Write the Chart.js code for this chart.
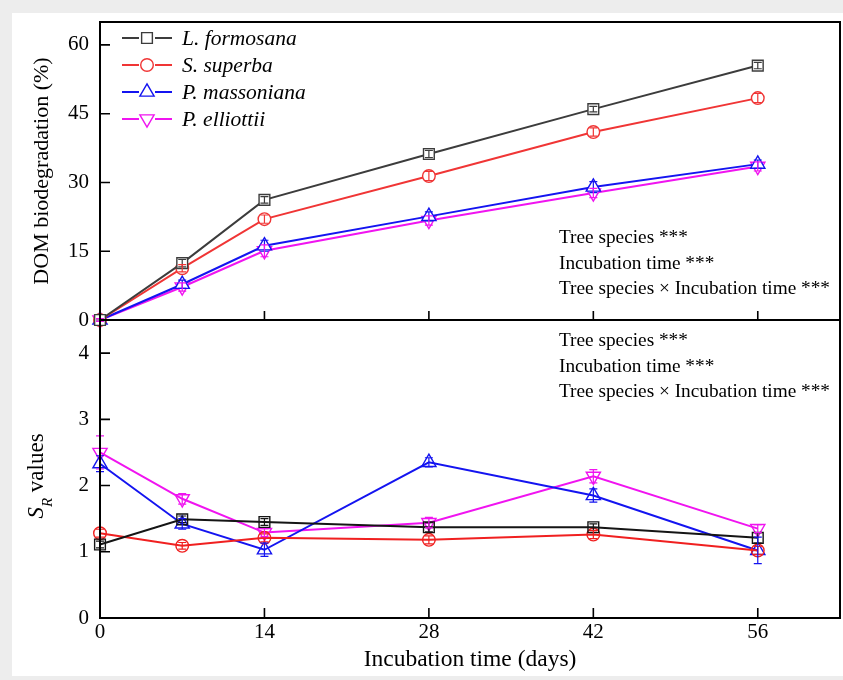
<!DOCTYPE html>
<html><head><meta charset="utf-8">
<script src="https://cdn.jsdelivr.net/npm/chart.js@4.4.1/dist/chart.umd.min.js"></script>
<style>
html,body{margin:0;padding:0;background:#ededed;width:843px;height:680px;overflow:hidden}
#wrap{position:absolute;left:12px;top:13px;width:831px;height:663px;background:#fff}
canvas{display:block}
</style></head><body>
<div id="wrap"><canvas id="c" width="831" height="663"></canvas></div>
<script>
// ---- data ----
const days = [0, 7, 14, 28, 42, 56];
const species = ['L. formosana', 'S. superba', 'P. massoniana', 'P. elliottii'];
const xTicks = [0, 14, 28, 42, 56];

// DOM biodegradation (%)
const degLF = [0, 12.4, 26.2, 36.2, 46.0, 55.5];
const degSS = [0, 11.3, 22.0, 31.4, 41.0, 48.4];
const degPM = [0, 7.8, 16.2, 22.6, 29.0, 34.0];
const degPE = [0, 7.2, 15.1, 21.7, 27.7, 33.5];
const degErrLF = [0.3, 0.8, 0.7, 0.8, 0.6, 0.7];
const degErrSS = [0.3, 0.8, 0.9, 1.0, 0.9, 1.0];
const degErrPM = [0.3, 0.9, 1.2, 1.0, 1.2, 0.9];
const degErrPE = [0.3, 0.9, 1.3, 1.0, 1.0, 1.0];

// SR values
const srLF = [1.11, 1.49, 1.45, 1.37, 1.37, 1.21];
const srSS = [1.28, 1.09, 1.21, 1.18, 1.26, 1.02];
const srPM = [2.33, 1.42, 1.03, 2.35, 1.85, 1.02];
const srPE = [2.50, 1.80, 1.29, 1.44, 2.14, 1.35];
const srErrLF = [0.05, 0.05, 0.05, 0.07, 0.05, 0.08];
const srErrSS = [0.06, 0.05, 0.06, 0.06, 0.06, 0.06];
const srErrPM = [0.12, 0.08, 0.10, 0.07, 0.10, 0.20];
const srErrPE = [0.25, 0.08, 0.06, 0.08, 0.10, 0.06];

const statLines = ['Tree species ***', 'Incubation time ***', 'Tree species \u00d7 Incubation time ***'];

// ---- styles ----
const colorsTop = ['#3c3c3c', '#f03535', '#1414f0', '#f014f0'];
const colorsBot = ['#151515', '#f02020', '#1414f0', '#f014f0'];
const styles = [
  {pointStyle: 'rect', rot: 0, r: 7.6},
  {pointStyle: 'circle', rot: 0, r: 6.3},
  {pointStyle: 'triangle', rot: 0, r: 8.2},
  {pointStyle: 'triangle', rot: 180, r: 8.2}
];
const SERIF = '"Liberation Serif", "Times New Roman", serif';

const pts = arr => days.map((d, i) => ({x: d, y: arr[i]}));
function mk(idx, vals, errs, axis, colors, fill) {
  return {
    label: species[idx], data: pts(vals), err: errs, yAxisID: axis,
    borderColor: colors[idx], backgroundColor: 'rgba(0,0,0,0)',
    borderWidth: 2, pointStyle: styles[idx].pointStyle, pointRotation: styles[idx].rot,
    pointRadius: styles[idx].r, pointBorderWidth: 1.4, pointBorderColor: colors[idx],
    pointBackgroundColor: fill, tension: 0, clip: false
  };
}
const datasets = [
  mk(0, degLF, degErrLF, 'yTop', colorsTop, '#fff'), mk(1, degSS, degErrSS, 'yTop', colorsTop, '#fff'),
  mk(2, degPM, degErrPM, 'yTop', colorsTop, '#fff'), mk(3, degPE, degErrPE, 'yTop', colorsTop, '#fff'),
  mk(0, srLF, srErrLF, 'yBot', colorsBot, 'rgba(0,0,0,0)'), mk(1, srSS, srErrSS, 'yBot', colorsBot, 'rgba(0,0,0,0)'),
  mk(2, srPM, srErrPM, 'yBot', colorsBot, 'rgba(0,0,0,0)'), mk(3, srPE, srErrPE, 'yBot', colorsBot, 'rgba(0,0,0,0)')
];

const deco = {
  id: 'deco',
  afterDatasetsDraw(chart) {
    const ctx = chart.ctx;
    ctx.save();
    chart.data.datasets.forEach((ds, di) => {
      const meta = chart.getDatasetMeta(di);
      const ys = chart.scales[ds.yAxisID];
      ctx.strokeStyle = ds.borderColor; ctx.lineWidth = 1.2;
      ds.data.forEach((p, j) => {
        const e = ds.err[j];
        const x = meta.data[j].x;
        const y1 = ys.getPixelForValue(p.y + e), y2 = ys.getPixelForValue(p.y - e);
        ctx.beginPath();
        ctx.moveTo(x, y1); ctx.lineTo(x, y2);
        ctx.moveTo(x - 4, y1); ctx.lineTo(x + 4, y1);
        ctx.moveTo(x - 4, y2); ctx.lineTo(x + 4, y2);
        ctx.stroke();
      });
    });
    ctx.restore();
  },
  afterDraw(chart) {
    const ctx = chart.ctx;
    const ca = chart.chartArea;
    const xs = chart.scales.x, yt = chart.scales.yTop, yb = chart.scales.yBot;
    const mid = yt.bottom;
    ctx.save();
    ctx.strokeStyle = '#000'; ctx.lineWidth = 2;
    ctx.strokeRect(ca.left, ca.top, ca.right - ca.left, ca.bottom - ca.top);
    ctx.beginPath(); ctx.moveTo(ca.left, mid); ctx.lineTo(ca.right, mid); ctx.stroke();
    // inward ticks
    ctx.lineWidth = 1.6;
    ctx.beginPath();
    yt.ticks.forEach(t => { const y = yt.getPixelForValue(t.value); ctx.moveTo(ca.left, y); ctx.lineTo(ca.left + 10, y); });
    yb.ticks.forEach(t => { const y = yb.getPixelForValue(t.value); ctx.moveTo(ca.left, y); ctx.lineTo(ca.left + 10, y); });
    xs.ticks.forEach(t => {
      const x = xs.getPixelForValue(t.value);
      ctx.moveTo(x, ca.bottom); ctx.lineTo(x, ca.bottom - 10);
      ctx.moveTo(x, mid); ctx.lineTo(x, mid - 9);
    });
    ctx.stroke();

    // legend
    for (let i = 0; i < 4; i++) {
      const ds = chart.data.datasets[i];
      const y = ca.top + 16 + i * 27;
      const x0 = ca.left + 22, x1 = ca.left + 72, xm = (x0 + x1) / 2;
      ctx.strokeStyle = ds.borderColor; ctx.lineWidth = 2;
      ctx.beginPath(); ctx.moveTo(x0, y); ctx.lineTo(xm - 8, y); ctx.moveTo(xm + 8, y); ctx.lineTo(x1, y); ctx.stroke();
      ctx.lineWidth = 1.4; ctx.fillStyle = 'rgba(0,0,0,0)';
      Chart.helpers.drawPoint(ctx, {pointStyle: ds.pointStyle, rotation: ds.pointRotation, radius: ds.pointRadius, borderWidth: 1.4}, xm, y);
      ctx.fillStyle = '#000';
      ctx.font = 'italic 21.5px ' + SERIF;
      ctx.textBaseline = 'middle'; ctx.textAlign = 'left';
      ctx.fillText(ds.label, ca.left + 82, y + 1);
    }

    // stats text
    ctx.fillStyle = '#000';
    ctx.font = '19.3px ' + SERIF;
    ctx.textBaseline = 'middle'; ctx.textAlign = 'left';
    const tx = ca.left + 459;
    statLines.forEach((s, i) => ctx.fillText(s, tx, ca.top + 216 + i * 25.5));
    statLines.forEach((s, i) => ctx.fillText(s, tx, mid + 21 + i * 25.5));

    // y titles
    ctx.save();
    ctx.translate(30, (yt.top + yt.bottom) / 2);
    ctx.rotate(-Math.PI / 2);
    ctx.font = '22px ' + SERIF; ctx.textAlign = 'center'; ctx.textBaseline = 'middle';
    ctx.fillText('DOM biodegradation (%)', 0, 0);
    ctx.restore();

    ctx.save();
    ctx.translate(31, (yb.top + yb.bottom) / 2 + 7);
    ctx.rotate(-Math.PI / 2);
    ctx.textBaseline = 'alphabetic'; ctx.textAlign = 'left';
    const fS = 'italic 23px ' + SERIF, fR = 'italic 15px ' + SERIF, fV = '23px ' + SERIF;
    ctx.font = fS; const wS = ctx.measureText('S').width;
    ctx.font = fR; const wR = ctx.measureText('R').width;
    ctx.font = fV; const wV = ctx.measureText(' values').width;
    let x = -(wS + wR + wV) / 2;
    ctx.font = fS; ctx.fillText('S', x, 0); x += wS;
    ctx.font = fR; ctx.fillText('R', x, 9); x += wR;
    ctx.font = fV; ctx.fillText(' values', x, 0);
    ctx.restore();
    ctx.restore();
  }
};

const tickFont = {family: SERIF, size: 21};
const noPadV = s => { s.width = 88; s.paddingTop = 0; s.paddingBottom = 0; };
new Chart(document.getElementById('c'), {
  type: 'line',
  data: {datasets},
  options: {
    responsive: false, animation: false, devicePixelRatio: 1,
    layout: {autoPadding: false, padding: {top: 9, right: 3, left: 0, bottom: 0}},
    plugins: {legend: {display: false}, tooltip: {enabled: false}},
    scales: {
      x: {
        type: 'linear', position: 'bottom', min: 0, max: 63,
        afterBuildTicks: s => { s.ticks = xTicks.map(v => ({value: v})); },
        ticks: {font: tickFont, color: '#000', padding: 2, maxRotation: 0, autoSkip: false},
        grid: {display: false, drawTicks: false}, border: {display: false},
        title: {display: true, text: 'Incubation time (days)', color: '#000', font: {family: SERIF, size: 23.5}, padding: {top: 0, bottom: 2}},
        afterFit: s => { s.height = 58; s.paddingLeft = 0; s.paddingRight = 0; }
      },
      yBot: {
        type: 'linear', position: 'left', stack: 'panels', stackWeight: 1, min: 0, max: 4.5,
        ticks: {stepSize: 1, includeBounds: false, font: tickFont, color: '#000', padding: 11},
        grid: {display: false, drawTicks: false}, border: {display: false},
        afterFit: noPadV
      },
      yTop: {
        type: 'linear', position: 'left', stack: 'panels', stackWeight: 1, min: 0, max: 65,
        ticks: {stepSize: 15, includeBounds: false, font: tickFont, color: '#000', padding: 11},
        grid: {display: false, drawTicks: false}, border: {display: false},
        afterFit: noPadV
      }
    }
  },
  plugins: [deco]
});
</script>
</body></html>
